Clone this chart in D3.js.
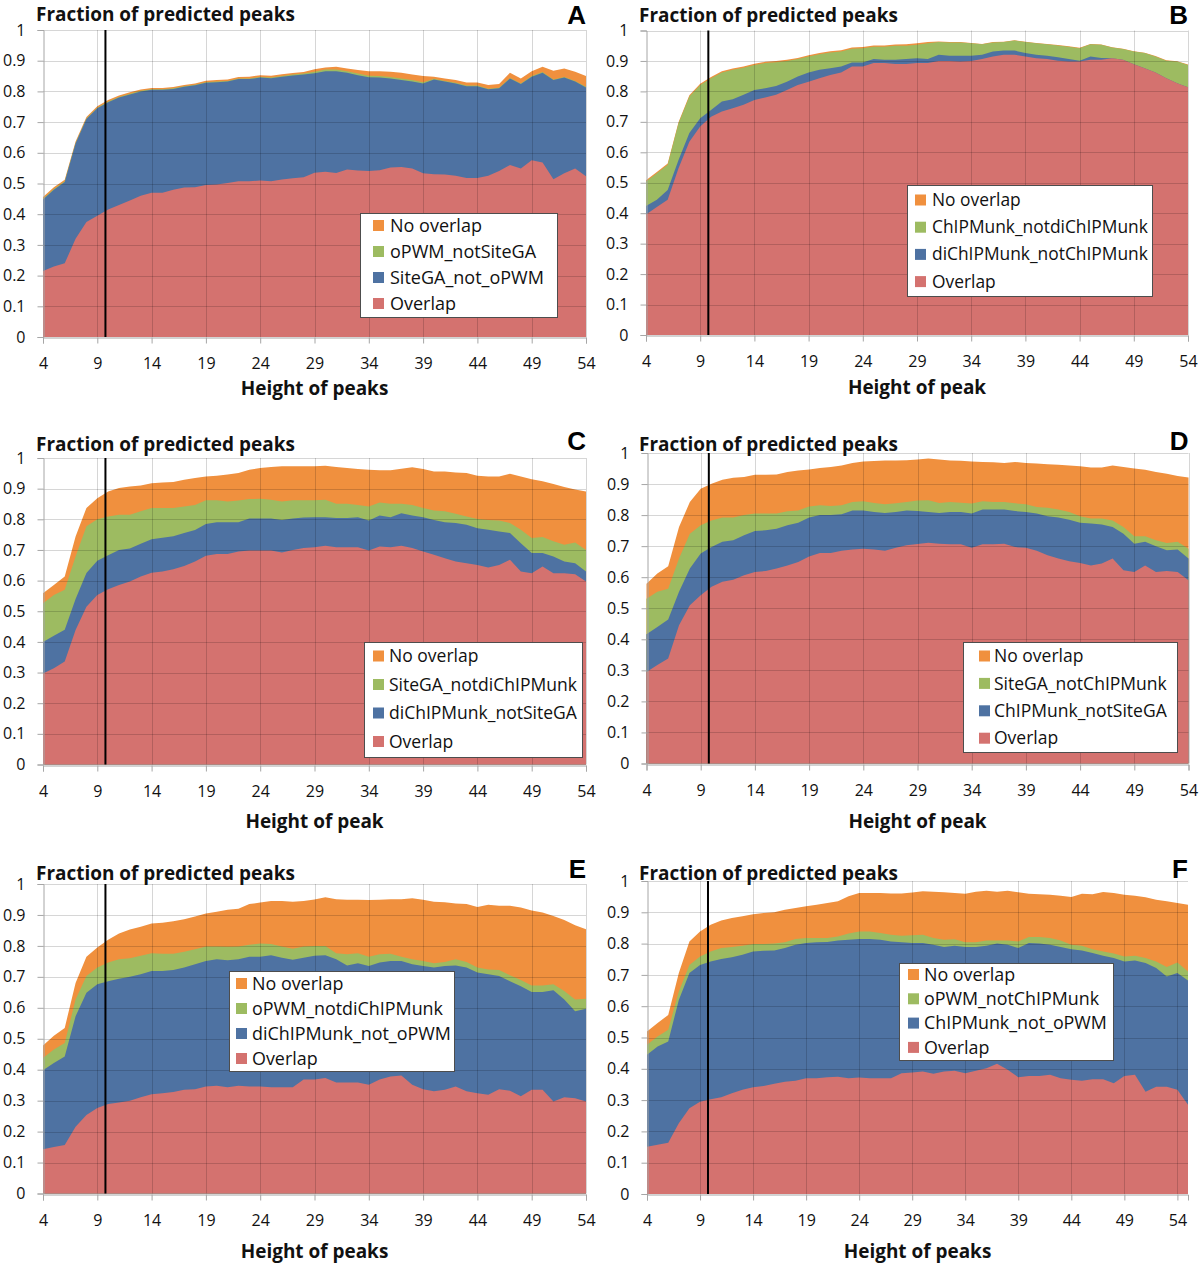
<!DOCTYPE html>
<html>
<head>
<meta charset="utf-8">
<script src="https://cdn.jsdelivr.net/npm/d3@7"></script>
<style>
  body { margin: 0; background: #fff; }
  svg { display: block; }
  text { font-family: "Open Sans", "DejaVu Sans", sans-serif; fill: #111; }
</style>
</head>
<body>
<div id="chart"></div>
<script>
// peak heights (x categories); panel F runs one step further
const heights = [4, 5, 6, 7, 8, 9, 10, 11, 12, 13, 14, 15, 16, 17, 18, 19, 20, 21, 22, 23, 24, 25, 26, 27, 28, 29,
  30, 31, 32, 33, 34, 35, 36, 37, 38, 39, 40, 41, 42, 43, 44, 45, 46, 47, 48, 49, 50, 51, 52, 53, 54, 55];
const xTicks = [4, 9, 14, 19, 24, 29, 34, 39, 44, 49, 54];
const yTicks = [0, 0.1, 0.2, 0.3, 0.4, 0.5, 0.6, 0.7, 0.8, 0.9, 1];
const yTickLabels = ['0', '0.1', '0.2', '0.3', '0.4', '0.5', '0.6', '0.7', '0.8', '0.9', '1'];
const threshold = 9.75;

// upper edge of each stacked band (cumulative fraction)
// A
const aOverlap = [0.215, 0.23, 0.24, 0.32, 0.375, 0.395, 0.415, 0.43, 0.445, 0.46,
  0.47, 0.47, 0.48, 0.487, 0.488, 0.495, 0.497, 0.502, 0.507, 0.507,
  0.51, 0.507, 0.513, 0.517, 0.52, 0.535, 0.538, 0.534, 0.546, 0.542,
  0.541, 0.543, 0.552, 0.554, 0.549, 0.533, 0.53, 0.529, 0.525, 0.518,
  0.518, 0.525, 0.541, 0.56, 0.549, 0.576, 0.568, 0.514, 0.533, 0.549, 0.524];
const aSecond = [0.448, 0.48, 0.505, 0.63, 0.71, 0.745, 0.765, 0.78, 0.79, 0.8,
  0.805, 0.805, 0.808, 0.815, 0.82, 0.828, 0.83, 0.832, 0.84, 0.84,
  0.845, 0.843, 0.848, 0.852, 0.855, 0.859, 0.866, 0.866, 0.861, 0.853,
  0.846, 0.845, 0.842, 0.837, 0.832, 0.826, 0.839, 0.832, 0.826, 0.817,
  0.817, 0.807, 0.81, 0.842, 0.824, 0.848, 0.861, 0.837, 0.845, 0.832, 0.813];
const aThird = [0.45, 0.482, 0.507, 0.632, 0.712, 0.747, 0.767, 0.782, 0.792, 0.802,
  0.807, 0.807, 0.81, 0.817, 0.822, 0.83, 0.832, 0.834, 0.842, 0.842,
  0.847, 0.845, 0.85, 0.855, 0.858, 0.864, 0.871, 0.871, 0.866, 0.858,
  0.851, 0.85, 0.847, 0.842, 0.837, 0.83, 0.841, 0.834, 0.828, 0.819,
  0.819, 0.809, 0.812, 0.844, 0.826, 0.85, 0.863, 0.839, 0.847, 0.834, 0.815];
const aNone = [0.456, 0.488, 0.512, 0.637, 0.717, 0.752, 0.772, 0.787, 0.797, 0.806,
  0.811, 0.811, 0.814, 0.821, 0.826, 0.835, 0.837, 0.839, 0.847, 0.848,
  0.853, 0.851, 0.856, 0.86, 0.863, 0.872, 0.878, 0.88, 0.875, 0.87,
  0.866, 0.866, 0.864, 0.861, 0.855, 0.85, 0.848, 0.842, 0.837, 0.829,
  0.829, 0.821, 0.824, 0.861, 0.842, 0.866, 0.88, 0.867, 0.875, 0.864, 0.85];

// B
const bOverlap = [0.396, 0.42, 0.444, 0.548, 0.635, 0.685, 0.717, 0.734, 0.745, 0.756,
  0.772, 0.78, 0.789, 0.805, 0.821, 0.832, 0.843, 0.854, 0.862, 0.882,
  0.882, 0.893, 0.893, 0.89, 0.89, 0.893, 0.893, 0.9, 0.9, 0.898,
  0.9, 0.906, 0.915, 0.92, 0.92, 0.915, 0.909, 0.906, 0.901, 0.898,
  0.898, 0.904, 0.904, 0.909, 0.904, 0.889, 0.876, 0.862, 0.843, 0.827, 0.814];
const bSecond = [0.424, 0.444, 0.476, 0.575, 0.663, 0.712, 0.739, 0.767, 0.774, 0.789,
  0.805, 0.81, 0.818, 0.832, 0.849, 0.862, 0.871, 0.876, 0.882, 0.895,
  0.895, 0.906, 0.904, 0.904, 0.906, 0.909, 0.906, 0.92, 0.917, 0.917,
  0.917, 0.92, 0.931, 0.934, 0.934, 0.926, 0.92, 0.917, 0.912, 0.906,
  0.901, 0.915, 0.91, 0.909, 0.904, 0.889, 0.876, 0.862, 0.843, 0.827, 0.814];
const bThird = [0.504, 0.531, 0.559, 0.695, 0.783, 0.821, 0.843, 0.862, 0.871, 0.878,
  0.887, 0.893, 0.896, 0.9, 0.906, 0.915, 0.922, 0.928, 0.931, 0.94,
  0.942, 0.947, 0.947, 0.95, 0.95, 0.953, 0.958, 0.962, 0.961, 0.961,
  0.958, 0.955, 0.961, 0.962, 0.967, 0.962, 0.958, 0.955, 0.951, 0.947,
  0.942, 0.955, 0.953, 0.944, 0.939, 0.931, 0.926, 0.915, 0.901, 0.898, 0.887];
const bNone = [0.508, 0.535, 0.563, 0.699, 0.787, 0.825, 0.847, 0.866, 0.875, 0.882,
  0.891, 0.897, 0.9, 0.904, 0.91, 0.919, 0.926, 0.932, 0.935, 0.944,
  0.946, 0.951, 0.951, 0.954, 0.955, 0.958, 0.962, 0.964, 0.962, 0.962,
  0.959, 0.956, 0.962, 0.963, 0.968, 0.963, 0.959, 0.956, 0.952, 0.948,
  0.943, 0.956, 0.954, 0.945, 0.94, 0.932, 0.927, 0.916, 0.902, 0.899, 0.888];

// C
const cOverlap = [0.297, 0.314, 0.336, 0.439, 0.515, 0.553, 0.572, 0.586, 0.597, 0.613,
  0.626, 0.63, 0.637, 0.648, 0.662, 0.681, 0.687, 0.687, 0.695, 0.698,
  0.698, 0.698, 0.692, 0.7, 0.706, 0.709, 0.714, 0.709, 0.709, 0.709,
  0.698, 0.711, 0.709, 0.714, 0.706, 0.695, 0.684, 0.673, 0.662, 0.657,
  0.651, 0.643, 0.651, 0.668, 0.63, 0.624, 0.646, 0.624, 0.624, 0.621, 0.597];
const cSecond = [0.4, 0.42, 0.44, 0.54, 0.625, 0.665, 0.683, 0.7, 0.705, 0.72,
  0.735, 0.74, 0.745, 0.755, 0.765, 0.785, 0.79, 0.79, 0.79, 0.803,
  0.803, 0.803, 0.798, 0.803, 0.806, 0.807, 0.807, 0.804, 0.804, 0.807,
  0.796, 0.812, 0.807, 0.82, 0.812, 0.807, 0.798, 0.79, 0.788, 0.782,
  0.771, 0.766, 0.76, 0.755, 0.722, 0.69, 0.69, 0.679, 0.662, 0.657, 0.63];
const cThird = [0.526, 0.553, 0.57, 0.679, 0.777, 0.8, 0.809, 0.815, 0.815, 0.826,
  0.837, 0.837, 0.837, 0.842, 0.847, 0.862, 0.862, 0.858, 0.861, 0.866,
  0.867, 0.864, 0.858, 0.862, 0.862, 0.862, 0.864, 0.851, 0.851, 0.847,
  0.842, 0.855, 0.851, 0.851, 0.847, 0.837, 0.829, 0.826, 0.818, 0.809,
  0.801, 0.798, 0.796, 0.788, 0.766, 0.739, 0.742, 0.728, 0.717, 0.724, 0.7];
const cNone = [0.559, 0.586, 0.613, 0.744, 0.837, 0.869, 0.891, 0.902, 0.907, 0.91,
  0.918, 0.92, 0.922, 0.929, 0.935, 0.94, 0.942, 0.946, 0.951, 0.962,
  0.967, 0.971, 0.973, 0.973, 0.973, 0.973, 0.975, 0.971, 0.967, 0.964,
  0.962, 0.96, 0.96, 0.965, 0.97, 0.964, 0.956, 0.956, 0.953, 0.951,
  0.942, 0.94, 0.94, 0.949, 0.94, 0.931, 0.924, 0.915, 0.905, 0.897, 0.891];

// D
const dOverlap = [0.295, 0.317, 0.338, 0.445, 0.51, 0.542, 0.569, 0.585, 0.592, 0.606,
  0.617, 0.62, 0.628, 0.638, 0.649, 0.667, 0.678, 0.678, 0.685, 0.689,
  0.692, 0.689, 0.685, 0.695, 0.703, 0.707, 0.711, 0.708, 0.706, 0.706,
  0.695, 0.706, 0.706, 0.708, 0.697, 0.695, 0.685, 0.671, 0.66, 0.651,
  0.646, 0.638, 0.644, 0.66, 0.622, 0.617, 0.638, 0.617, 0.62, 0.617, 0.59];
const dSecond = [0.416, 0.44, 0.464, 0.553, 0.628, 0.676, 0.697, 0.714, 0.719, 0.735,
  0.749, 0.751, 0.756, 0.767, 0.775, 0.792, 0.8, 0.8, 0.803, 0.815,
  0.815, 0.81, 0.807, 0.81, 0.815, 0.813, 0.81, 0.807, 0.81, 0.81,
  0.805, 0.818, 0.818, 0.818, 0.813, 0.81, 0.805, 0.796, 0.792, 0.785,
  0.775, 0.773, 0.77, 0.762, 0.74, 0.708, 0.714, 0.7, 0.687, 0.689, 0.66];
const dThird = [0.531, 0.553, 0.563, 0.66, 0.74, 0.767, 0.783, 0.792, 0.792, 0.8,
  0.805, 0.805, 0.805, 0.812, 0.815, 0.828, 0.832, 0.829, 0.832, 0.842,
  0.845, 0.839, 0.835, 0.838, 0.842, 0.847, 0.848, 0.839, 0.842, 0.84,
  0.837, 0.845, 0.842, 0.842, 0.838, 0.835, 0.826, 0.824, 0.818, 0.81,
  0.796, 0.789, 0.789, 0.783, 0.762, 0.732, 0.732, 0.719, 0.71, 0.714, 0.692];
const dNone = [0.579, 0.612, 0.635, 0.762, 0.842, 0.885, 0.901, 0.914, 0.92, 0.923,
  0.93, 0.93, 0.931, 0.939, 0.944, 0.947, 0.952, 0.955, 0.96, 0.968,
  0.973, 0.974, 0.976, 0.976, 0.977, 0.979, 0.982, 0.979, 0.976, 0.975,
  0.973, 0.971, 0.97, 0.968, 0.971, 0.968, 0.966, 0.964, 0.962, 0.96,
  0.957, 0.953, 0.953, 0.96, 0.955, 0.95, 0.946, 0.939, 0.933, 0.926, 0.921];

// E
const eOverlap = [0.143, 0.15, 0.157, 0.216, 0.254, 0.276, 0.289, 0.294, 0.3, 0.311,
  0.321, 0.324, 0.328, 0.335, 0.337, 0.346, 0.348, 0.343, 0.348, 0.346,
  0.346, 0.343, 0.343, 0.343, 0.368, 0.368, 0.373, 0.359, 0.359, 0.359,
  0.351, 0.368, 0.378, 0.381, 0.351, 0.337, 0.33, 0.335, 0.346, 0.33,
  0.324, 0.319, 0.337, 0.332, 0.314, 0.335, 0.335, 0.297, 0.311, 0.308, 0.297];
const eSecond = [0.398, 0.422, 0.443, 0.573, 0.649, 0.676, 0.686, 0.694, 0.7, 0.708,
  0.719, 0.719, 0.722, 0.73, 0.741, 0.751, 0.757, 0.754, 0.757, 0.765,
  0.765, 0.77, 0.762, 0.755, 0.762, 0.768, 0.77, 0.757, 0.737, 0.744,
  0.735, 0.746, 0.751, 0.751, 0.741, 0.735, 0.73, 0.735, 0.737, 0.73,
  0.714, 0.708, 0.703, 0.686, 0.67, 0.651, 0.651, 0.657, 0.627, 0.589, 0.597];
const eThird = [0.438, 0.465, 0.486, 0.627, 0.703, 0.73, 0.746, 0.757, 0.76, 0.768,
  0.776, 0.775, 0.775, 0.781, 0.789, 0.798, 0.798, 0.797, 0.798, 0.804,
  0.808, 0.806, 0.798, 0.791, 0.798, 0.8, 0.8, 0.776, 0.773, 0.776,
  0.765, 0.773, 0.775, 0.765, 0.757, 0.751, 0.744, 0.748, 0.757, 0.748,
  0.73, 0.724, 0.722, 0.705, 0.69, 0.672, 0.672, 0.676, 0.654, 0.627, 0.629];
const eNone = [0.478, 0.51, 0.535, 0.68, 0.765, 0.795, 0.82, 0.84, 0.853, 0.862,
  0.872, 0.875, 0.88, 0.886, 0.895, 0.905, 0.91, 0.917, 0.92, 0.935,
  0.94, 0.945, 0.945, 0.943, 0.945, 0.95, 0.957, 0.951, 0.949, 0.949,
  0.948, 0.949, 0.951, 0.951, 0.954, 0.949, 0.943, 0.941, 0.937, 0.935,
  0.926, 0.933, 0.93, 0.93, 0.924, 0.914, 0.908, 0.897, 0.884, 0.867, 0.854];

// F (heights 4..55)
const fOverlap = [0.151, 0.157, 0.164, 0.226, 0.274, 0.295, 0.303, 0.309, 0.322, 0.333,
  0.341, 0.345, 0.352, 0.359, 0.362, 0.37, 0.37, 0.373, 0.375, 0.37,
  0.372, 0.37, 0.37, 0.37, 0.386, 0.388, 0.391, 0.384, 0.391, 0.394,
  0.386, 0.394, 0.402, 0.416, 0.397, 0.373, 0.377, 0.377, 0.381, 0.37,
  0.365, 0.362, 0.367, 0.367, 0.354, 0.377, 0.381, 0.327, 0.343, 0.343, 0.333, 0.285];
const fSecond = [0.445, 0.471, 0.487, 0.62, 0.706, 0.732, 0.743, 0.751, 0.756, 0.764,
  0.775, 0.777, 0.778, 0.786, 0.796, 0.802, 0.804, 0.805, 0.81, 0.812,
  0.815, 0.815, 0.812, 0.807, 0.804, 0.802, 0.802, 0.796, 0.789, 0.793,
  0.789, 0.789, 0.793, 0.8, 0.796, 0.786, 0.802, 0.8, 0.796, 0.789,
  0.782, 0.778, 0.77, 0.761, 0.754, 0.743, 0.746, 0.738, 0.722, 0.695, 0.706, 0.682];
const fThird = [0.477, 0.503, 0.525, 0.647, 0.732, 0.759, 0.775, 0.786, 0.789, 0.793,
  0.799, 0.799, 0.8, 0.804, 0.815, 0.818, 0.818, 0.818, 0.823, 0.832,
  0.839, 0.839, 0.834, 0.828, 0.825, 0.827, 0.828, 0.818, 0.812, 0.814,
  0.804, 0.804, 0.81, 0.81, 0.81, 0.807, 0.821, 0.821, 0.818, 0.81,
  0.796, 0.793, 0.782, 0.775, 0.768, 0.759, 0.761, 0.754, 0.743, 0.725, 0.74, 0.711];
const fNone = [0.519, 0.546, 0.572, 0.706, 0.807, 0.839, 0.86, 0.874, 0.882, 0.887,
  0.894, 0.898, 0.9, 0.908, 0.914, 0.919, 0.924, 0.93, 0.935, 0.951,
  0.962, 0.962, 0.962, 0.96, 0.96, 0.963, 0.967, 0.966, 0.964, 0.962,
  0.959, 0.966, 0.969, 0.966, 0.969, 0.964, 0.959, 0.958, 0.956, 0.953,
  0.949, 0.959, 0.958, 0.965, 0.962, 0.956, 0.953, 0.948, 0.94, 0.935, 0.93, 0.924];

// legend entries, top to bottom
const legendA = ['No overlap', 'oPWM_notSiteGA', 'SiteGA_not_oPWM', 'Overlap'];
const legendB = ['No overlap', 'ChIPMunk_notdiChIPMunk', 'diChIPMunk_notChIPMunk', 'Overlap'];
const legendC = ['No overlap', 'SiteGA_notdiChIPMunk', 'diChIPMunk_notSiteGA', 'Overlap'];
const legendD = ['No overlap', 'SiteGA_notChIPMunk', 'ChIPMunk_notSiteGA', 'Overlap'];
const legendE = ['No overlap', 'oPWM_notdiChIPMunk', 'diChIPMunk_not_oPWM', 'Overlap'];
const legendF = ['No overlap', 'oPWM_notChIPMunk', 'ChIPMunk_not_oPWM', 'Overlap'];

const yTitle = 'Fraction of predicted peaks';

// colours bottom -> top: overlap, second, third, no overlap
const bandColors = ['#d4726f', '#4e72a2', '#9dbb61', '#f0903e'];
const legendColors = [bandColors[3], bandColors[2], bandColors[1], bandColors[0]];

const panels = [
  { letter: 'A', xMax: 54, levels: [aOverlap, aSecond, aThird, aNone], names: legendA, xTitle: 'Height of peaks',
    left: 43, right: 586, bottom: 337, top: 30, titleX: 36, titleY: 21, letterY: 24, xTitleY: 395,
    lg: { x: 360, y: 213, w: 197, h: 104, row0: 225.5, step: 26, sq: 373, tx: 390, tw: 154 } },
  { letter: 'B', xMax: 54, levels: [bOverlap, bSecond, bThird, bNone], names: legendB, xTitle: 'Height of peak',
    left: 646, right: 1188, bottom: 335, top: 30.5, titleX: 639, titleY: 22, letterY: 24, xTitleY: 394,
    lg: { x: 907, y: 185, w: 245, h: 111, row0: 200, step: 27.2, sq: 915, tx: 932, tw: 216 } },
  { letter: 'C', xMax: 54, levels: [cOverlap, cSecond, cThird, cNone], names: legendC, xTitle: 'Height of peak',
    left: 43, right: 586, bottom: 764.5, top: 458, titleX: 36, titleY: 451, letterY: 450, xTitleY: 828,
    lg: { x: 364, y: 642, w: 218, h: 115, row0: 656, step: 28.5, sq: 373, tx: 389, tw: 188 } },
  { letter: 'D', xMax: 54, levels: [dOverlap, dSecond, dThird, dNone], names: legendD, xTitle: 'Height of peak',
    left: 646.5, right: 1188.5, bottom: 763.5, top: 453, titleX: 639, titleY: 451, letterY: 450, xTitleY: 828,
    lg: { x: 963, y: 642, w: 214, h: 110, row0: 656, step: 27.4, sq: 979, tx: 994, tw: 173 } },
  { letter: 'E', xMax: 54, levels: [eOverlap, eSecond, eThird, eNone], names: legendE, xTitle: 'Height of peaks',
    left: 43, right: 586, bottom: 1193.5, top: 884, titleX: 36, titleY: 880, letterY: 878, xTitleY: 1258,
    lg: { x: 229, y: 971, w: 225, h: 100, row0: 983.5, step: 25, sq: 236, tx: 252, tw: 199 } },
  { letter: 'F', xMax: 55, levels: [fOverlap, fSecond, fThird, fNone], names: legendF, xTitle: 'Height of peaks',
    left: 647, right: 1188, bottom: 1194, top: 881, titleX: 639, titleY: 880, letterY: 878, xTitleY: 1258,
    lg: { x: 899, y: 963, w: 214, h: 97, row0: 974.5, step: 24.3, sq: 908, tx: 924, tw: 183 } },
];

const svg = d3.select('#chart').append('svg')
  .attr('width', 1200)
  .attr('height', 1264);

// shrink/grow a text so it spans the width it has in the figure
function fitWidth(sel, target) {
  const w = sel.node().getComputedTextLength();
  const fs = parseFloat(sel.attr('font-size'));
  return fs * target / w;
}

// one bold size for all titles, taken from the y title width
const probe = svg.append('text').attr('font-size', 16).attr('font-weight', 'bold').text(yTitle);
const titleSize = fitWidth(probe, 259);
probe.remove();

panels.forEach((p) => {
  const g = svg.append('g');
  const x = d3.scaleLinear().domain([4, p.xMax]).range([p.left, p.right]);
  const y = d3.scaleLinear().domain([0, 1]).range([p.bottom, p.top]);
  const rows = heights.slice(0, p.levels[0].length).map((h, i) => ({ h, lv: p.levels.map((l) => l[i]) }));

  // each band filled from zero, biggest first, so no seams show between bands
  for (let k = 3; k >= 0; k--) {
    g.append('path')
      .datum(rows)
      .attr('fill', bandColors[k])
      .attr('d', d3.area().x((d) => x(d.h)).y0(y(0)).y1((d) => y(d.lv[k])));
  }

  // gridlines sit over the areas and show through faintly
  g.selectAll('.hgrid')
    .data(yTicks.slice(1))
    .join('line')
    .attr('x1', p.left)
    .attr('x2', p.right)
    .attr('y1', (d) => Math.round(y(d)) + 0.5)
    .attr('y2', (d) => Math.round(y(d)) + 0.5)
    .attr('stroke', 'rgba(0,0,0,0.16)');
  g.selectAll('.vgrid')
    .data(xTicks.slice(1))
    .join('line')
    .attr('x1', (d) => Math.round(x(d)) + 0.5)
    .attr('x2', (d) => Math.round(x(d)) + 0.5)
    .attr('y1', p.top)
    .attr('y2', p.bottom)
    .attr('stroke', 'rgba(0,0,0,0.16)');

  const yAxis = g.append('g')
    .attr('transform', `translate(${Math.round(p.left) + 0.5},0)`)
    .call(d3.axisLeft(y).tickValues(yTicks).tickSize(6).tickPadding(12)
      .tickFormat((d, i) => yTickLabels[i]));
  const xAxis = g.append('g')
    .attr('transform', `translate(0,${Math.round(p.bottom) + 0.5})`)
    .call(d3.axisBottom(x).tickValues(xTicks).tickSize(6).tickPadding(14).tickFormat(d3.format('d')));
  [yAxis, xAxis].forEach((a) => {
    a.select('.domain').attr('stroke', '#a6a6a6');
    a.selectAll('.tick line').attr('stroke', '#a6a6a6');
    a.selectAll('.tick text').attr('font-size', 16).attr('fill', '#111')
      .style('font-family', '"Open Sans", sans-serif');
  });

  // threshold line
  g.append('line')
    .attr('x1', x(threshold))
    .attr('x2', x(threshold))
    .attr('y1', y(1))
    .attr('y2', y(0))
    .attr('stroke', '#000')
    .attr('stroke-width', 2);

  g.append('text')
    .attr('x', p.titleX)
    .attr('y', p.titleY)
    .attr('font-size', titleSize)
    .attr('font-weight', 'bold')
    .text(yTitle);

  g.append('text')
    .attr('x', (p.left + p.right) / 2)
    .attr('y', p.xTitleY)
    .attr('text-anchor', 'middle')
    .attr('font-size', titleSize)
    .attr('font-weight', 'bold')
    .text(p.xTitle);

  g.append('text')
    .attr('x', p.right)
    .attr('y', p.letterY)
    .attr('text-anchor', 'end')
    .attr('font-size', 26)
    .attr('font-weight', 'bold')
    .style('font-family', '"Liberation Sans", Arial, sans-serif')
    .style('fill', '#000')
    .text(p.letter);

  // legend
  const lg = p.lg;
  g.append('rect')
    .attr('x', lg.x + 0.5)
    .attr('y', lg.y + 0.5)
    .attr('width', lg.w)
    .attr('height', lg.h)
    .attr('fill', '#fff')
    .attr('stroke', '#4d4d4d');
  g.selectAll('.lg-sq')
    .data(p.names)
    .join('rect')
    .attr('x', lg.sq)
    .attr('y', (d, i) => lg.row0 + lg.step * i - 5.5)
    .attr('width', 11)
    .attr('height', 11)
    .attr('fill', (d, i) => legendColors[i]);
  const labels = g.selectAll('.lg-text')
    .data(p.names)
    .join('text')
    .attr('x', lg.tx)
    .attr('y', (d, i) => lg.row0 + lg.step * i)
    .attr('dy', '0.35em')
    .attr('font-size', 16)
    .text((d) => d);
  const longest = labels.filter((d) => d.length === d3.max(p.names, (n) => n.length));
  const fs = fitWidth(d3.select(longest.node()), lg.tw);
  labels.attr('font-size', fs);
});
</script>
</body>
</html>
